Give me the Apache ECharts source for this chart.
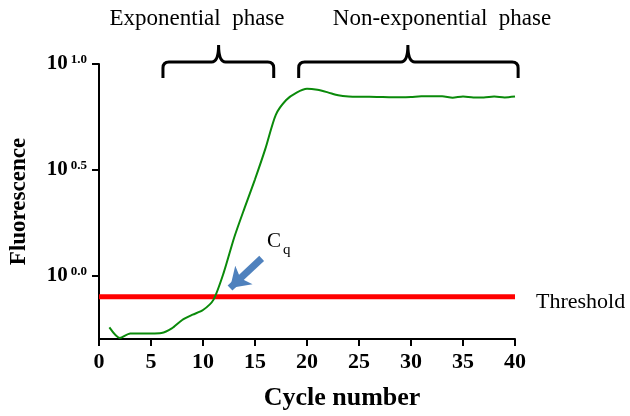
<!DOCTYPE html>
<html>
<head>
<meta charset="utf-8">
<script src="https://cdn.jsdelivr.net/npm/echarts@6/dist/echarts.min.js"></script>
<style>
html,body{margin:0;padding:0;background:#fff;}
#chart{width:630px;height:416px;}
</style>
</head>
<body>
<div id="chart"></div>
<script>
// ---- data (log10 of fluorescence) ----
var cycles = [1,2,3,4,5,6,7,8,9,10,11,12,13,14,15,16,17,18,19,20,21,22,23,24,25,26,27,28,29,30,31,32,33,34,35,36,37,38,39,40];
var logFluorescence = [-0.245,-0.295,-0.274,-0.274,-0.274,-0.272,-0.25,-0.21,-0.185,-0.163,-0.115,0.015,0.18,0.32,0.455,0.60,0.76,0.83,0.865,0.883,0.878,0.866,0.852,0.846,0.845,0.845,0.844,0.843,0.843,0.844,0.847,0.847,0.847,0.841,0.846,0.842,0.842,0.846,0.842,0.846];
var thresholdValue = -0.1;
var thresholdRange = [0, 40];
var xTicks = [0,5,10,15,20,25,30,35,40];
var yTickExponents = [0, 0.5, 1.0];
var arrowFrom = [15.64, 0.081];
var arrowTo = [12.6, -0.059];
var bracketStart = [6.15, 19.2];
var bracketEnd = [16.8, 40.3];
var bracketTip = [11.5, 29.7];
var phaseLabels = ['Exponential  phase', 'Non-exponential  phase'];

var serif = 'Liberation Serif';
var curveData = cycles.map(function (c, i) { return [c, logFluorescence[i]]; });
var thresholdData = thresholdRange.map(function (x) { return [x, thresholdValue]; });
var bracketData = bracketStart.map(function (s, i) { return [s, bracketEnd[i], bracketTip[i]]; });

var chart = echarts.init(document.getElementById('chart'));
chart.setOption({
  animation: false,
  backgroundColor: '#fff',
  grid: { left: 99, right: 115, top: 64, bottom: 74 },
  xAxis: {
    type: 'value', min: 0, max: 40, interval: 5,
    name: 'Cycle number', nameLocation: 'middle', nameGap: 46,
    nameTextStyle: { fontFamily: serif, fontWeight: 'bold', fontSize: 26, color: '#000', padding: [0, 0, 0, 70] },
    axisLine: { onZero: false, lineStyle: { color: '#000', width: 2 } },
    axisTick: { show: true, length: 7, lineStyle: { color: '#000', width: 2 } },
    axisLabel: { fontFamily: serif, fontWeight: 'bold', fontSize: 22, color: '#000', margin: 12,
      customValues: xTicks },
    splitLine: { show: false }
  },
  yAxis: {
    type: 'value', min: -0.3, max: 1.0,
    name: 'Fluorescence', nameLocation: 'middle', nameGap: 68,
    nameTextStyle: { fontFamily: serif, fontWeight: 'bold', fontSize: 23, color: '#000' },
    axisLine: { show: true, onZero: false, lineStyle: { color: '#000', width: 2 } },
    axisTick: { show: true, length: 7, lineStyle: { color: '#000', width: 2 }, customValues: yTickExponents },
    axisLabel: {
      margin: 12, color: '#000', customValues: yTickExponents,
      formatter: function (v) { return '{b|10}{s|' + v.toFixed(1) + '}'; },
      rich: {
        b: { fontFamily: serif, fontWeight: 'bold', fontSize: 21, lineHeight: 21, verticalAlign: 'bottom', color: '#000' },
        s: { fontFamily: serif, fontWeight: 'bold', fontSize: 13, lineHeight: 13, verticalAlign: 'bottom', padding: [0, 0, 8, 3], color: '#000' }
      }
    },
    splitLine: { show: false }
  },
  series: [
    {
      type: 'line', data: thresholdData, symbol: 'none', silent: true,
      lineStyle: { color: '#ff0000', width: 5 }, z: 2
    },
    {
      type: 'line', data: curveData, symbol: 'none', smooth: 0.25,
      lineStyle: { color: '#0a8a0a', width: 2 }, z: 3
    },
    {
      type: 'lines', coordinateSystem: 'cartesian2d', polyline: false,
      data: [{ coords: [arrowFrom, arrowTo] }],
      symbol: ['none', 'arrow'], symbolSize: 19,
      lineStyle: { color: '#4f81bd', width: 7, opacity: 1, curveness: 0 }, z: 4
    },
    {
      type: 'custom', data: bracketData, clip: false, silent: true,
      encode: { x: [0, 1, 2] },
      renderItem: function (params, api) {
        var s = api.coord([api.value(0), 1.0]);
        var e = api.coord([api.value(1), 1.0]);
        var m = api.coord([api.value(2), 1.0]);
        var top = s[1] - 2, r = 6, drop = 16, tipH = 17;
        var x1 = s[0], x2 = e[0], xm = m[0];
        var d = 'M' + x1 + ' ' + (top + drop) +
          ' L' + x1 + ' ' + (top + r) +
          ' Q' + x1 + ' ' + top + ' ' + (x1 + r) + ' ' + top +
          ' L' + (xm - 7) + ' ' + top +
          ' Q' + xm + ' ' + top + ' ' + xm + ' ' + (top - tipH) +
          ' Q' + xm + ' ' + top + ' ' + (xm + 7) + ' ' + top +
          ' L' + (x2 - r) + ' ' + top +
          ' Q' + x2 + ' ' + top + ' ' + x2 + ' ' + (top + r) +
          ' L' + x2 + ' ' + (top + drop);
        return { type: 'path', shape: { pathData: d }, style: { stroke: '#000', lineWidth: 3, fill: null } };
      }
    }
  ],
  graphic: [
    { type: 'text', x: 197, y: 19, style: { text: phaseLabels[0], fontFamily: serif, fontSize: 23, fill: '#000', align: 'center', verticalAlign: 'middle' } },
    { type: 'text', x: 442, y: 19, style: { text: phaseLabels[1], fontFamily: serif, fontSize: 23, fill: '#000', align: 'center', verticalAlign: 'middle' } },
    { type: 'text', x: 536, y: 302, style: { text: 'Threshold', fontFamily: serif, fontSize: 22, fill: '#000', align: 'left', verticalAlign: 'middle' } },
    { type: 'text', x: 267, y: 241, style: { text: 'C', fontFamily: serif, fontSize: 21, fill: '#000', align: 'left', verticalAlign: 'middle' } },
    { type: 'text', x: 283, y: 250, style: { text: 'q', fontFamily: serif, fontSize: 15, fill: '#000', align: 'left', verticalAlign: 'middle' } }
  ]
});
</script>
</body>
</html>
